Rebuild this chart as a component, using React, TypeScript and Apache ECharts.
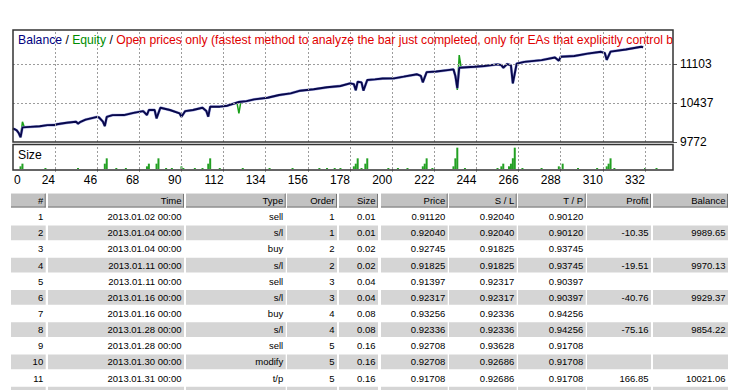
import React, { useEffect, useRef } from "react";
import * as echarts from "echarts";

// ---- chart data (trade index, value) ----
const balance: [number, number][] = [
  [2, 10000], [3, 9990], [4, 9970], [5, 9929], [6, 9854], [7, 10021],
  [11, 10030], [16, 10040], [20, 10060], [24, 10062], [25, 10075], [30, 10100],
  [35, 10118], [36, 10085], [37, 10110], [40, 10155], [46, 10200], [47, 10190],
  [49, 10120], [50, 10045], [51, 10200], [54, 10230], [60, 10232], [65, 10270],
  [70, 10300], [72, 10233], [73, 10318], [76, 10318], [77, 10176], [79, 10357],
  [84, 10318], [89, 10262], [90, 10204], [92, 10300], [96, 10318], [101, 10357],
  [103, 10300], [104, 10204], [105, 10375], [110, 10375], [114, 10392], [120, 10455],
  [124, 10470], [128, 10500], [135, 10528], [141, 10574], [147, 10603], [152, 10648],
  [159, 10672], [166, 10706], [173, 10728], [178, 10774], [180, 10760], [181, 10655],
  [182, 10800], [184, 10790], [185, 10650], [187, 10830], [191, 10842], [195, 10855],
  [201, 10858], [206, 10887], [213, 10928], [215, 10900], [216, 10791], [218, 10965],
  [223, 10975], [229, 11000], [232, 11012], [233, 10900], [234, 10690], [235, 11040],
  [243, 11057], [248, 11069], [255, 11098], [257, 11085], [258, 11040], [260, 11103],
  [262, 11080], [263, 10774], [265, 11110], [269, 11140], [278, 11170], [285, 11215],
  [287, 11160], [288, 11228], [295, 11240], [302, 11280], [309, 11312], [311, 11290],
  [312, 11175], [314, 11315], [322, 11352], [330, 11398], [331, 11390],
];

// equity points that differ from the balance curve
const equityExtra: [number, number][] = [
  [7, 10118], [8, 10022],
  [119, 10440], [120, 10262], [121, 10455],
  [234, 10660], [235, 11257], [236, 11045],
];

// lot size per trade index
const sizeBars: [number, number][] = [
  [6, 0.08], [7, 0.16], [19, 0.02], [36, 0.02], [50, 0.16], [51, 0.32], [56, 0.02],
  [61, 0.02], [72, 0.08], [73, 0.16], [77, 0.16], [78, 0.32], [82, 0.02], [85, 0.02],
  [90, 0.08], [91, 0.02], [97, 0.02], [101, 0.02], [104, 0.16], [105, 0.32], [110, 0.02],
  [122, 0.02], [136, 0.02], [148, 0.02], [162, 0.02], [166, 0.02], [170, 0.02], [173, 0.02],
  [180, 0.08], [181, 0.16], [182, 0.32], [184, 0.02], [186, 0.16], [187, 0.32], [198, 0.02],
  [203, 0.02], [208, 0.02], [216, 0.08], [217, 0.16], [218, 0.32], [221, 0.02], [232, 0.08],
  [233, 0.32], [234, 0.64], [238, 0.02], [255, 0.02], [257, 0.08], [258, 0.16], [261, 0.08],
  [262, 0.16], [263, 0.32], [264, 0.64], [268, 0.02], [278, 0.02], [287, 0.08], [289, 0.16],
  [297, 0.02], [307, 0.02], [312, 0.08], [313, 0.16], [314, 0.32], [316, 0.02], [332, 0.02],
  [338, 0.02],
];

const xTicks = [24, 46, 68, 90, 112, 134, 156, 178, 200, 222, 244, 266, 288, 310, 332];
const yTicks = [9772, 10437, 11103];

// ---- trade table ----
const tableHeaders = ["#", "Time", "Type", "Order", "Size", "Price", "S / L", "T / P", "Profit", "Balance"];
const rowNums = ["1", "2", "3", "4", "5", "6", "7", "8", "9", "10", "11"];
const rowTimes = [
  "2013.01.02 00:00", "2013.01.04 00:00", "2013.01.04 00:00", "2013.01.11 00:00",
  "2013.01.11 00:00", "2013.01.16 00:00", "2013.01.16 00:00", "2013.01.28 00:00",
  "2013.01.28 00:00", "2013.01.30 00:00", "2013.01.31 00:00",
];
const rowTypes = ["sell", "s/l", "buy", "s/l", "sell", "s/l", "buy", "s/l", "sell", "modify", "t/p"];
const rowOrders = ["1", "1", "2", "2", "3", "3", "4", "4", "5", "5", "5"];
const rowSizes = ["0.01", "0.01", "0.02", "0.02", "0.04", "0.04", "0.08", "0.08", "0.16", "0.16", "0.16"];
const rowPrices = ["0.91120", "0.92040", "0.92745", "0.91825", "0.91397", "0.92317", "0.93256", "0.92336", "0.92708", "0.92708", "0.91708"];
const rowSL = ["0.92040", "0.92040", "0.91825", "0.91825", "0.92317", "0.92317", "0.92336", "0.92336", "0.93628", "0.92686", "0.92686"];
const rowTP = ["0.90120", "0.90120", "0.93745", "0.93745", "0.90397", "0.90397", "0.94256", "0.94256", "0.91708", "0.91708", "0.91708"];
const rowProfit = ["", "-10.35", "", "-19.51", "", "-40.76", "", "-75.16", "", "", "166.85"];
const rowBalance = ["", "9989.65", "", "9970.13", "", "9929.37", "", "9854.22", "", "", "10021.06"];

const FONT = "'Liberation Sans', Arial, sans-serif";

function buildTable(): any[] {
  const colL = [11, 48, 186, 287, 339, 381, 449, 518, 587, 653];
  const colR = [45.7, 184, 285.7, 337, 378, 447.7, 516.7, 585.7, 651, 728];
  const els: any[] = [];
  const hTop = 193, hH = 14.5;
  tableHeaders.forEach((h, c) => {
    els.push({ type: "rect", shape: { x: colL[c], y: hTop, width: colR[c] - colL[c], height: hH }, style: { fill: "#c2c2c2" } });
    els.push({ type: "line", shape: { x1: colL[c], y1: hTop + hH - 0.5, x2: colR[c], y2: hTop + hH - 0.5 }, style: { stroke: "#777", lineWidth: 1 } });
    els.push({ type: "line", shape: { x1: colR[c] - 0.5, y1: hTop, x2: colR[c] - 0.5, y2: hTop + hH }, style: { stroke: "#777", lineWidth: 1 } });
    els.push({ type: "line", shape: { x1: colL[c], y1: hTop + 0.5, x2: colR[c], y2: hTop + 0.5 }, style: { stroke: "#e2e2e2", lineWidth: 1 } });
    els.push({ type: "text", x: colR[c] - 2.5, y: hTop + hH / 2, style: { text: h, fill: "#000", font: `9.5px ${FONT}`, align: "right", verticalAlign: "middle" } });
  });
  const cols = [rowNums, rowTimes, rowTypes, rowOrders, rowSizes, rowPrices, rowSL, rowTP, rowProfit, rowBalance];
  const rowCount = 12;
  for (let r = 0; r < rowCount; r++) {
    const cy = 216.7 + r * 16.13;
    if (r % 2 === 1) {
      for (let c = 0; c < colL.length; c++) {
        els.push({ type: "rect", shape: { x: colL[c], y: cy - 7.3, width: colR[c] - colL[c], height: 14.6 }, style: { fill: "#d5d5d5" } });
      }
    }
    if (r < rowNums.length) {
      cols.forEach((col, c) => {
        if (col[r]) {
          els.push({ type: "text", x: colR[c] - 2.5, y: cy, style: { text: col[r], fill: "#000", font: `9.5px ${FONT}`, align: "right", verticalAlign: "middle" } });
        }
      });
    }
  }
  return els;
}

export default function App() {
  const ref = useRef<HTMLDivElement>(null);
  useEffect(() => {
    if (!ref.current) return;
    const chart = echarts.init(ref.current, null, { renderer: "svg" });
    const eqMap = new Map<number, number>(balance.map(([x, y]) => [x, y] as [number, number]));
    equityExtra.forEach(([x, y]) => eqMap.set(x, y));
    const equity = [...eqMap.entries()].sort((a, b) => a[0] - b[0]);

    const xMin = 2.07, xMax = 346.6;
    const gridLine = { color: "#9c9c9c", type: [2, 2] as any, width: 1 };
    const TF = 12.2;

    const option: any = {
      animation: false,
      grid: [
        { left: 13, top: 31, width: 660, height: 111 },
        { left: 13, top: 145, width: 660, height: 24 },
      ],
      xAxis: [
        { gridIndex: 0, type: "value", min: xMin, max: xMax, show: false },
        {
          gridIndex: 1, type: "value", min: xMin, max: xMax,
          axisLine: { show: false },
          splitLine: { show: false },
          axisTick: { show: true, customValues: xTicks, length: 3, lineStyle: { color: "#9c9c9c" } },
          axisLabel: { customValues: xTicks, align: "right", margin: 5, fontSize: 12, color: "#000", fontFamily: FONT, formatter: (v: number) => String(v) },
        },
      ],
      yAxis: [
        {
          gridIndex: 0, type: "value", position: "right", min: 9772, max: 11667,
          axisLine: { show: false },
          splitLine: { show: false },
          axisTick: { show: true, customValues: yTicks, length: 4, lineStyle: { color: "#555" } },
          axisLabel: { customValues: yTicks, margin: 7, fontSize: 12, color: "#000", fontFamily: FONT, formatter: (v: number) => String(v) },
        },
        { gridIndex: 1, type: "value", min: 0, max: 0.72, show: false },
      ],
      series: [
        {
          type: "line", xAxisIndex: 0, yAxisIndex: 0, data: [], z: 1, silent: true,
          markLine: {
            silent: true, symbol: ["none", "none"], label: { show: false }, lineStyle: gridLine,
            data: [...xTicks.map((v) => ({ xAxis: v })), ...yTicks.slice(1).map((v) => ({ yAxis: v }))],
          },
        },
        {
          type: "line", xAxisIndex: 1, yAxisIndex: 1, data: [], z: 1, silent: true,
          markLine: {
            silent: true, symbol: ["none", "none"], label: { show: false }, lineStyle: gridLine,
            data: xTicks.map((v) => ({ xAxis: v })),
          },
        },
        {
          name: "Equity", type: "line", xAxisIndex: 0, yAxisIndex: 0, data: equity, z: 2,
          showSymbol: false, symbol: "none", lineStyle: { color: "#1aa01a", width: 1.5 },
        },
        {
          type: "line", xAxisIndex: 0, yAxisIndex: 0, data: balance, z: 3,
          showSymbol: false, symbol: "none", lineStyle: { color: "#a4a8e2", width: 2.8 },
        },
        {
          name: "Balance", type: "line", xAxisIndex: 0, yAxisIndex: 0, data: balance, z: 4,
          showSymbol: false, symbol: "none", lineStyle: { color: "#08084c", width: 1.9 },
        },
        {
          name: "Size", type: "bar", xAxisIndex: 1, yAxisIndex: 1, data: sizeBars, z: 2,
          barWidth: 2, barMinHeight: 1, itemStyle: { color: "#23a023" },
        },
      ],
      graphic: [
        {
          type: "rect", z: 100, shape: { x: 13, y: 30, width: 660, height: 112 },
          style: { fill: "none", stroke: "#333", lineWidth: 1.5 },
        },
        {
          type: "rect", z: 100, shape: { x: 13, y: 144.5, width: 660, height: 25.5 },
          style: { fill: "none", stroke: "#333", lineWidth: 1.5 },
        },
        {
          type: "text", z: 99, x: 18, y: 40,
          style: {
            text: "{b|Balance} / {e|Equity} / {r|Open prices only (fastest method to analyze the bar just completed, only for EAs that explicitly control b}",
            font: `${TF}px ${FONT}`, fill: "#000", verticalAlign: "middle",
            width: 662, overflow: "truncate", ellipsis: "",
            rich: {
              b: { fill: "#000080", font: `${TF}px ${FONT}` },
              e: { fill: "#008c00", font: `${TF}px ${FONT}` },
              r: { fill: "#e00000", font: `${TF}px ${FONT}` },
            },
          },
        },
        {
          type: "rect", z: 99.5, shape: { x: 674, y: 31, width: 30, height: 18 },
          style: { fill: "#fff" },
        },
        {
          type: "text", z: 101, x: 18, y: 155,
          style: { text: "Size", font: `${TF}px ${FONT}`, fill: "#000", verticalAlign: "middle" },
        },
        {
          type: "text", z: 101, x: 14, y: 174,
          style: { text: "0", font: `12px ${FONT}`, fill: "#000", verticalAlign: "top" },
        },
        ...buildTable(),
      ],
    };
    chart.setOption(option);
    return () => chart.dispose();
  }, []);
  return <div ref={ref} style={{ position: "absolute", left: 0, top: 0, width: 750, height: 390 }} />;
}
